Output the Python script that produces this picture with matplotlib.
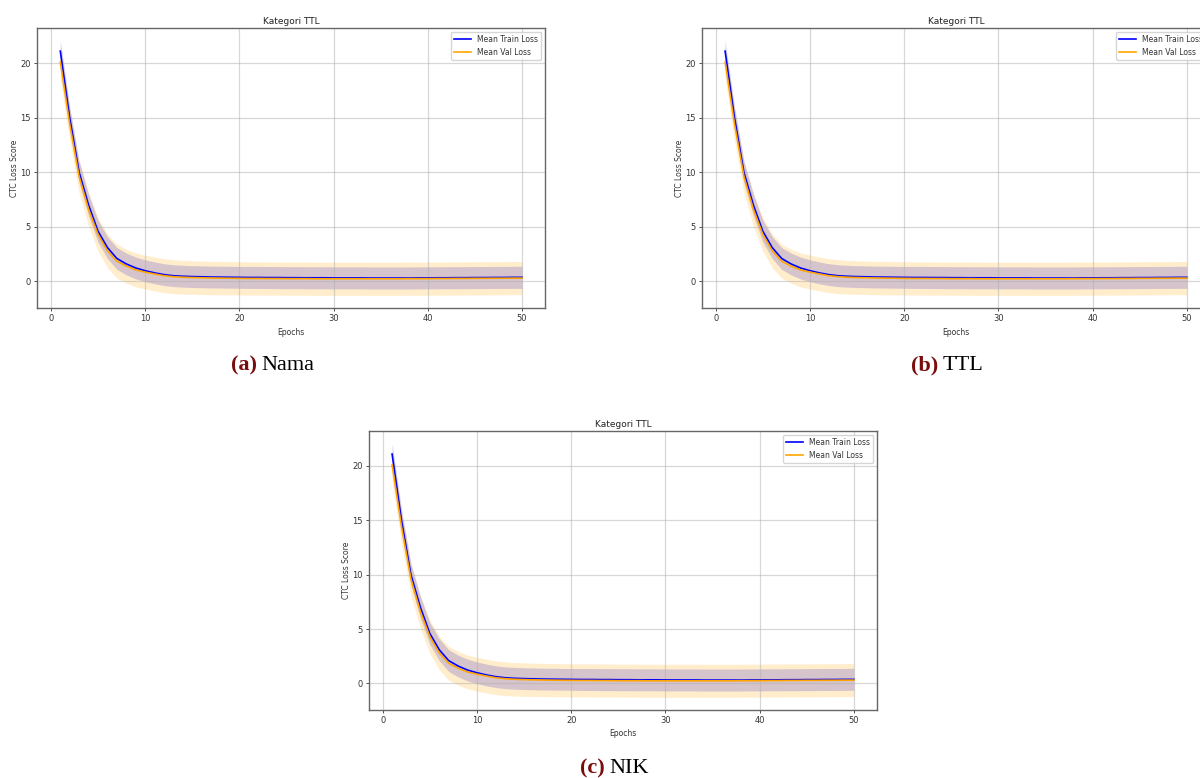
import matplotlib
matplotlib.use("Agg")
import matplotlib.pyplot as plt

# epochs 1..50, same run shown in all three panels
epochs = list(range(1, 51))

train_mean = [21.1, 15.0, 10.0, 7.0, 4.6, 3.1, 2.1, 1.6, 1.23, 0.98,
              0.78, 0.62, 0.52, 0.47, 0.44, 0.42, 0.40, 0.39, 0.38, 0.37,
              0.36, 0.36, 0.35, 0.35, 0.34, 0.34, 0.33, 0.33, 0.33, 0.32,
              0.32, 0.32, 0.32, 0.31, 0.31, 0.31, 0.31, 0.31, 0.32, 0.32,
              0.33, 0.33, 0.34, 0.34, 0.35, 0.35, 0.36, 0.36, 0.37, 0.37]
train_std = [0.95, 0.97, 0.98, 0.99, 1.0, 1.0, 1.0, 1.0, 1.0, 1.0,
             1.0, 1.0, 1.0, 1.0, 1.0, 1.0, 1.0, 1.0, 1.0, 1.0,
             1.01, 1.01, 1.01, 1.01, 1.01, 1.01, 1.01, 1.01, 1.01, 1.01,
             1.01, 1.01, 1.01, 1.01, 1.01, 1.01, 1.01, 1.01, 1.01, 1.01,
             1.01, 1.01, 1.01, 1.01, 1.01, 1.01, 1.01, 1.01, 1.01, 1.01]

val_mean = [20.1, 14.4, 9.6, 6.6, 4.3, 2.8, 1.85, 1.4, 1.05, 0.85,
            0.68, 0.52, 0.43, 0.38, 0.35, 0.33, 0.31, 0.30, 0.29, 0.28,
            0.27, 0.27, 0.26, 0.26, 0.25, 0.25, 0.25, 0.24, 0.24, 0.24,
            0.24, 0.24, 0.24, 0.24, 0.24, 0.24, 0.24, 0.25, 0.25, 0.25,
            0.26, 0.26, 0.27, 0.27, 0.28, 0.28, 0.29, 0.29, 0.30, 0.30]
val_std = [1.45, 1.48, 1.5, 1.52, 1.53, 1.54, 1.55, 1.55, 1.55, 1.55,
           1.55, 1.55, 1.55, 1.54, 1.54, 1.53, 1.53, 1.53, 1.52, 1.52,
           1.52, 1.52, 1.52, 1.52, 1.52, 1.52, 1.52, 1.52, 1.52, 1.52,
           1.52, 1.52, 1.52, 1.52, 1.52, 1.52, 1.52, 1.52, 1.52, 1.52,
           1.52, 1.52, 1.52, 1.52, 1.52, 1.52, 1.52, 1.52, 1.52, 1.52]

captions = [("(a)", "Nama"), ("(b)", "TTL"), ("(c)", "NIK")]

fig = plt.figure(figsize=(12, 7.78), dpi=100)

# axes boxes in figure fractions: left, bottom, width, height
boxes = [[0.031, 0.604, 0.4233, 0.360],
         [0.585, 0.604, 0.4233, 0.360],
         [0.3075, 0.0874, 0.4233, 0.3586]]
# caption split point (x) and baseline (y)
cap_pos = [(0.214, 0.518), (0.7815, 0.518), (0.504, 0.0)]

for box, (tag, name), (cx, cy) in zip(boxes, captions, cap_pos):
    ax = fig.add_axes(box)
    lo_t = [m - s for m, s in zip(train_mean, train_std)]
    hi_t = [m + s for m, s in zip(train_mean, train_std)]
    lo_v = [m - s for m, s in zip(val_mean, val_std)]
    hi_v = [m + s for m, s in zip(val_mean, val_std)]

    ax.plot(epochs, train_mean, color="blue", lw=1.2, label="Mean Train Loss")
    ax.fill_between(epochs, lo_t, hi_t, color="blue", alpha=0.2, lw=0)
    ax.plot(epochs, val_mean, color="orange", lw=1.2, label="Mean Val Loss")
    ax.fill_between(epochs, lo_v, hi_v, color="orange", alpha=0.2, lw=0)

    ax.set_title("Kategori TTL", fontsize=6.5, pad=3, color="#222222")
    ax.set_xlabel("Epochs", fontsize=5.5, labelpad=3, color="#333333")
    ax.set_ylabel("CTC Loss Score", fontsize=5.5, labelpad=1, color="#333333")
    ax.tick_params(labelsize=6, length=2.5, width=0.6, pad=2, colors="#333333")
    ax.grid(True, color="#b0b0b0", alpha=0.5, lw=0.9)
    for sp in ax.spines.values():
        sp.set_color("#666666")
        sp.set_linewidth(1.0)
    ax.legend(loc="upper right", fontsize=5.5, framealpha=0.8, handlelength=2.2,
              labelcolor="#333333")

    fig.text(cx, cy, tag, ha="right", va="bottom", fontsize=16,
             fontweight="bold", color="#7a0c0c", family="Liberation Serif")
    fig.text(cx + 0.004, cy, name, ha="left", va="bottom", fontsize=16,
             color="black", family="Liberation Serif")

fig.savefig("out.png", dpi=100)
